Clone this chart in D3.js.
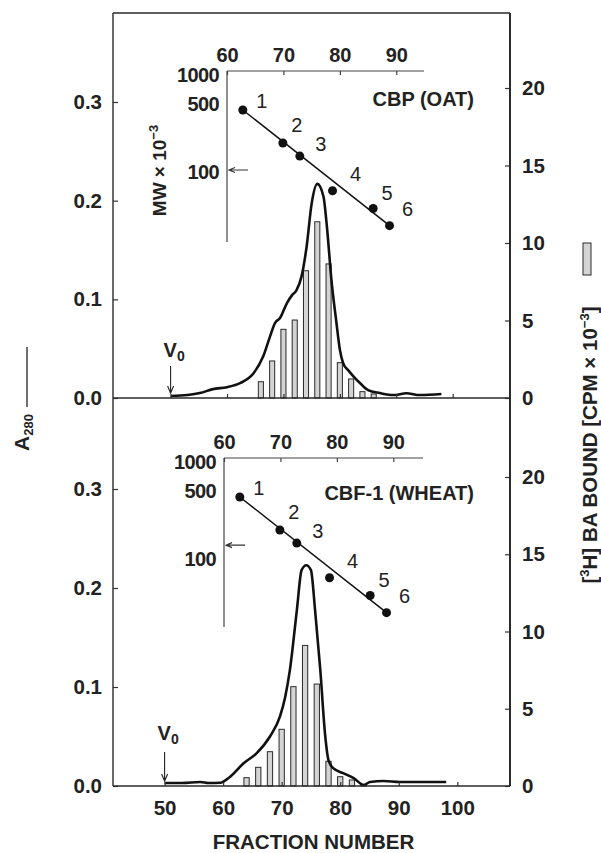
<!DOCTYPE html>
<html><head><meta charset="utf-8">
<script src="https://cdn.jsdelivr.net/npm/d3@7"></script>
<style>
body{margin:0;background:#fff}
svg{display:block}
text{font-family:"Liberation Sans",Arial,Helvetica,sans-serif;fill:#222}
</style>
</head><body><svg id="c" width="601" height="853"></svg>
<script>
// ---------------- DATA ----------------
const fractionTicks = [50, 60, 70, 80, 90, 100];
const a280Ticks = [0.0, 0.1, 0.2, 0.3];
const cpmTicks = [0, 5, 10, 15, 20];
const mwTicks = [1000, 500, 100];
const insetFracTicks = [60, 70, 80, 90];

// [3H]BA bound (CPM x 10^-3), every second fraction
const oatBarFractions = [66, 68, 70, 72, 74, 76, 78, 80, 82, 84, 86];
const oatBarCPM = [1.05, 2.39, 4.43, 5.03, 8.21, 11.37, 8.65, 2.28, 1.23, 0.41, 0.26];
const wheatBarFractions = [64, 66, 68, 70, 72, 74, 76, 78, 80, 82, 84];
const wheatBarCPM = [0.54, 1.21, 2.22, 3.67, 6.43, 9.1, 6.6, 1.6, 0.6, 0.39, 0.11];

// A280 elution profiles [fraction, A280]
const oatA280 = [[50,0.002],[53,0.003],[55.2,0.005],[57.5,0.009],[60,0.011],[62.3,0.015],[64.7,0.025],
  [66.4,0.042],[67.6,0.062],[68.5,0.076],[69.4,0.081],[70.6,0.096],[71.5,0.104],[72.3,0.109],[73.2,0.123],
  [74.1,0.153],[75.0,0.197],[76.0,0.217],[77.1,0.204],[77.7,0.174],[78.5,0.120],[79.4,0.076],[80.0,0.049],
  [80.6,0.035],[81.5,0.028],[82.4,0.022],[83.6,0.015],[85.0,0.008],[87.1,0.005],[89.5,0.003],[91.8,0.0048],
  [94.2,0.003],[98.0,0.004]];
const wheatA280 = [[50,0.003],[53,0.003],[56.1,0.004],[57.5,0.003],[59.5,0.0033],[61.2,0.0094],[63.5,0.023],
  [65.7,0.033],[68.0,0.050],[69.7,0.070],[70.6,0.09],[71.4,0.117],[72.6,0.178],[73.4,0.218],[74.2,0.223],
  [75.0,0.218],[75.7,0.178],[76.6,0.117],[77.4,0.053],[78.0,0.026],[78.8,0.018],[80.5,0.013],[82.3,0.008],
  [84.0,0.001],[85.1,0.004],[87.4,0.005],[90.2,0.004],[94,0.004],[98.1,0.004]];

// MW calibration markers
const markerNames = ["1", "2", "3", "4", "5", "6"];
const markerFraction = [62.8, 69.9, 72.9, 78.7, 85.9, 88.8];
const markerMW = [436, 199, 146, 64, 42, 28];
const fitFractions = [62.8, 88.8];
const fitMW = [436, 28];
const oatPeakMW = 105;
const wheatPeakMW = 139;
const voidFraction = 50;

// ---------------- LAYOUT ----------------
const L = 113, R = 510, T = 13, MID = 398, B = 786;
const labelOffsets = [[19,-9],[14,-18],[21,-12],[23,-17],[14,-16],[18,-17]];

const svg = d3.select("#c");

const panels = [
  { x: d3.scaleLinear([50, 100], [170.6, 452.7]),
    yA: d3.scaleLinear([0, 0.3], [MID, 102]),
    yC: d3.scaleLinear([0, 20], [MID, 88]),
    base: MID, barF: oatBarFractions, barV: oatBarCPM, curve: oatA280,
    ix: d3.scaleLinear([60, 90], [227, 396.3]),
    iy: d3.scaleLog([100, 1000], [172, 75]),
    iTop: 71, iBottom: 242, iRight: 424,
    peakMW: oatPeakMW, title: "CBP (OAT)", titleY: 106, mwLabel: true,
    v0Top: 366, v0Base: 357 },
  { x: d3.scaleLinear([50, 100], [164.6, 457.3]),
    yA: d3.scaleLinear([0, 0.3], [B, 489]),
    yC: d3.scaleLinear([0, 20], [B, 477]),
    base: B, barF: wheatBarFractions, barV: wheatBarCPM, curve: wheatA280,
    ix: d3.scaleLinear([60, 90], [224, 393.3]),
    iy: d3.scaleLog([100, 1000], [559, 462]),
    iTop: 458, iBottom: 627, iRight: 423,
    peakMW: wheatPeakMW, title: "CBF-1 (WHEAT)", titleY: 500, mwLabel: false,
    v0Top: 752, v0Base: 740 }
];

const TICKFONT = "20.5px";
const INSETFONT = "20px";

panels.forEach((p, pi) => {
  const g = svg.append("g");
  // bars
  g.selectAll("rect.bar").data(p.barF.map((f, i) => [f, p.barV[i]])).join("rect")
    .attr("class", "bar")
    .attr("x", d => p.x(d[0] - 0.45))
    .attr("width", d => p.x(d[0] + 0.45) - p.x(d[0] - 0.45))
    .attr("y", d => p.yC(d[1]))
    .attr("height", d => p.base - p.yC(d[1]))
    .attr("fill", "#d4d4d4").attr("stroke", "#2a2a2a").attr("stroke-width", 1);

  // A280 curve
  const line = d3.line().x(d => p.x(d[0])).y(d => p.yA(d[1])).curve(d3.curveMonotoneX);
  g.append("path").attr("d", line(p.curve)).attr("fill", "none")
    .attr("stroke", "#111").attr("stroke-width", 2.6).attr("stroke-linejoin", "round");

  // left axis
  const ax = g.append("g").attr("transform", `translate(${L},0)`)
    .call(d3.axisLeft(p.yA).tickValues(a280Ticks).tickFormat(d3.format(".1f"))
      .tickSizeInner(-5).tickSizeOuter(0).tickPadding(11));
  // right axis
  const ar = g.append("g").attr("transform", `translate(${R},0)`)
    .call(d3.axisRight(p.yC).tickValues(cpmTicks).tickFormat(d3.format("d"))
      .tickSizeInner(-5).tickSizeOuter(0).tickPadding(12));
  // x axis
  const axx = g.append("g").attr("transform", `translate(0,${p.base})`)
    .call(d3.axisBottom(p.x).tickValues(fractionTicks)
      .tickFormat(pi === 1 ? d3.format("d") : () => "")
      .tickSizeInner(-4).tickSizeOuter(0).tickPadding(14));
  [ax, ar, axx].forEach(a => {
    a.select(".domain").remove();
    a.selectAll(".tick line").attr("stroke", "#333").attr("stroke-width", 1.2);
    a.selectAll(".tick text").attr("font-size", TICKFONT).attr("font-weight", "bold")
      .attr("fill", "#222").style("font-family", '"Liberation Sans",Arial,sans-serif');
  });

  // V0 marker
  const vx = p.x(voidFraction);
  g.append("path")
    .attr("d", `M${vx},${p.v0Top}V${p.base - 5}M${vx - 3},${p.base - 12}L${vx},${p.base - 5}L${vx + 3},${p.base - 12}`)
    .attr("fill", "none").attr("stroke", "#222").attr("stroke-width", 1.1);
  const vt = g.append("text").attr("x", vx - 7).attr("y", p.v0Base)
    .attr("font-size", "20px").attr("font-weight", "bold");
  vt.append("tspan").text("V");
  vt.append("tspan").attr("font-size", "14px").attr("dy", 4).text("0");

  // ---------- inset: MW calibration ----------
  const ig = g.append("g");
  ig.append("line").attr("x1", p.ix(60)).attr("x2", p.iRight).attr("y1", p.iTop).attr("y2", p.iTop)
    .attr("stroke", "#444").attr("stroke-width", 1.2);
  ig.append("line").attr("x1", p.ix(60)).attr("x2", p.ix(60)).attr("y1", p.iTop).attr("y2", p.iBottom)
    .attr("stroke", "#444").attr("stroke-width", 1.2);
  const ixa = ig.append("g").attr("transform", `translate(0,${p.iTop})`)
    .call(d3.axisTop(p.ix).tickValues(insetFracTicks).tickFormat(d3.format("d"))
      .tickSizeInner(-4).tickSizeOuter(0).tickPadding(9));
  const iya = ig.append("g").attr("transform", `translate(${p.ix(60)},0)`)
    .call(d3.axisLeft(p.iy).tickValues(mwTicks).tickFormat(d3.format("d"))
      .tickSize(0).tickPadding(8));
  [ixa, iya].forEach(a => {
    a.select(".domain").remove();
    a.selectAll(".tick line").attr("stroke", "#444").attr("stroke-width", 1.2);
    a.selectAll(".tick text").attr("font-size", INSETFONT).attr("font-weight", "bold")
      .attr("fill", "#222").style("font-family", '"Liberation Sans",Arial,sans-serif');
  });
  iya.selectAll(".tick text").attr("letter-spacing", "-0.6px");

  // fit line
  ig.append("line")
    .attr("x1", p.ix(fitFractions[0])).attr("y1", p.iy(fitMW[0]))
    .attr("x2", p.ix(fitFractions[1])).attr("y2", p.iy(fitMW[1]))
    .attr("stroke", "#111").attr("stroke-width", 1.5);
  // points
  ig.selectAll("circle").data(markerFraction.map((f, i) => [f, markerMW[i]])).join("circle")
    .attr("cx", d => p.ix(d[0])).attr("cy", d => p.iy(d[1])).attr("r", 4.5).attr("fill", "#111");
  // point labels
  ig.selectAll("text.num").data(markerNames).join("text").attr("class", "num")
    .attr("x", (d, i) => p.ix(markerFraction[i]) + labelOffsets[i][0])
    .attr("y", (d, i) => p.iy(markerMW[i]) + labelOffsets[i][1])
    .attr("text-anchor", "middle").attr("dominant-baseline", "central")
    .attr("font-size", "20px").attr("fill", "#333").text(d => d);

  // arrow marking peak MW
  const ay = p.iy(p.peakMW), ax0 = p.ix(60) + 2;
  ig.append("path")
    .attr("d", `M${ax0 + 19},${ay}H${ax0}M${ax0 + 6},${ay - 2.5}L${ax0},${ay}L${ax0 + 6},${ay + 2.5}`)
    .attr("fill", "none").attr("stroke", "#333").attr("stroke-width", 1.1);

  // inset title
  ig.append("text").attr("x", 474).attr("y", p.titleY).attr("text-anchor", "end")
    .attr("font-size", "20px").attr("font-weight", "bold").text(p.title);

  if (p.mwLabel) {
    const mt = ig.append("text")
      .attr("transform", `translate(166,${(p.iTop + p.iBottom) / 2 + 14}) rotate(-90)`)
      .attr("text-anchor", "middle").attr("font-size", "19px").attr("font-weight", "bold");
    mt.append("tspan").text("MW \u00d7 10");
    mt.append("tspan").attr("font-size", "13px").attr("dy", -8).text("\u22123");
  }
});

// ---------------- FRAME ----------------
const frame = svg.append("g").attr("stroke", "#2a2a2a").attr("fill", "none");
frame.append("line").attr("x1", L).attr("x2", L).attr("y1", T).attr("y2", B).attr("stroke-width", 1.4);
frame.append("line").attr("x1", R).attr("x2", R).attr("y1", T).attr("y2", B).attr("stroke-width", 2);
frame.append("line").attr("x1", L).attr("x2", R).attr("y1", T).attr("y2", T).attr("stroke-width", 1.4);
frame.append("line").attr("x1", L).attr("x2", R).attr("y1", MID).attr("y2", MID).attr("stroke-width", 1.4);
frame.append("line").attr("x1", L).attr("x2", R).attr("y1", B).attr("y2", B).attr("stroke-width", 1.4);

// ---------------- AXIS TITLES ----------------
svg.append("text").attr("x", (L + R) / 2 + 2).attr("y", 849).attr("text-anchor", "middle")
  .attr("font-size", "20.5px").attr("font-weight", "bold").text("FRACTION NUMBER");

// left: A280 with line-style key
const lg = svg.append("g").attr("transform", "translate(29,451) rotate(-90)");
const at = lg.append("text").attr("x", 0).attr("y", 0).attr("font-size", "21px").attr("font-weight", "bold");
at.append("tspan").text("A");
at.append("tspan").attr("font-size", "13px").attr("dy", 4).text("280");
lg.append("line").attr("x1", 44).attr("x2", 104).attr("y1", -2).attr("y2", -2)
  .attr("stroke", "#222").attr("stroke-width", 1.3);

// right: [3H] BA bound with bar key
svg.append("rect").attr("x", 583).attr("y", 243).attr("width", 8).attr("height", 32)
  .attr("fill", "#d4d4d4").attr("stroke", "#2a2a2a").attr("stroke-width", 1);
const rt = svg.append("text").attr("transform", "translate(597,445) rotate(-90)")
  .attr("text-anchor", "middle").attr("font-size", "20.5px").attr("font-weight", "bold");
rt.append("tspan").text("[");
rt.append("tspan").attr("font-size", "13px").attr("dy", -8).text("3");
rt.append("tspan").attr("dy", 8).text("H] BA BOUND [CPM \u00d7 10");
rt.append("tspan").attr("font-size", "13px").attr("dy", -8).text("\u22123");
rt.append("tspan").attr("dy", 8).text("]");
</script>
</body></html>
